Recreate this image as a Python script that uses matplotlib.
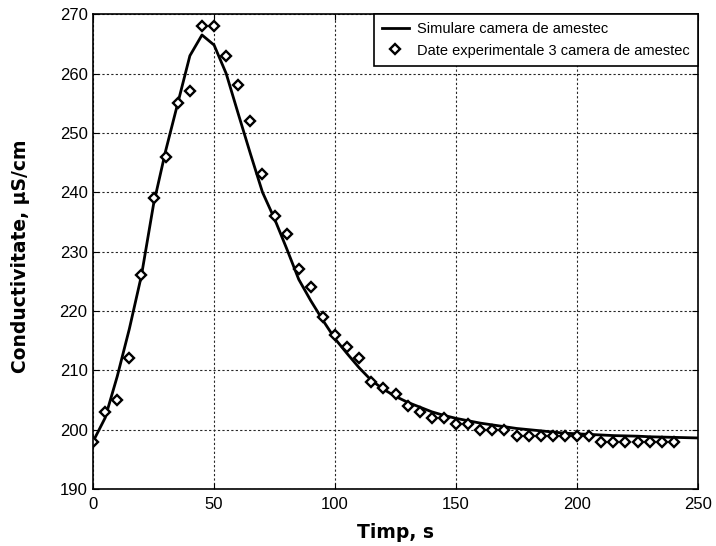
import numpy as np
import matplotlib.pyplot as plt

plt.rcParams["font.family"] = ["Liberation Sans", "DejaVu Sans"]

# simulated curve (5 s step)
t_sim = np.arange(0, 255, 5)
c_sim = [198, 202, 209, 217, 226, 238, 247, 255, 263, 266.5,
         264.8, 260, 253.2, 246.5, 240, 235.5, 230.5, 225.3, 221.7, 218.4,
         215.3, 212.8, 210.4, 208.3, 206.8, 205.6, 204.6, 203.8, 203.0, 202.4,
         201.9, 201.5, 201.1, 200.8, 200.5, 200.2, 200.0, 199.8, 199.6, 199.4,
         199.3, 199.2, 199.1, 199.0, 198.95, 198.9, 198.8, 198.75, 198.7, 198.65,
         198.6]

# experimental points
t_exp = np.arange(0, 245, 5)
c_exp = [198, 203, 205, 212, 226, 239, 246, 255, 257, 268,
         268, 263, 258, 252, 243, 236, 233, 227, 224, 219,
         216, 214, 212, 208, 207, 206, 204, 203, 202, 202,
         201, 201, 200, 200, 200, 199, 199, 199, 199, 199,
         199, 199, 198, 198, 198, 198, 198, 198, 198]

fig = plt.figure(figsize=(7.16, 5.46), dpi=100)
ax = fig.add_axes([0.130, 0.1044, 0.845, 0.8696])

ax.plot(t_sim, c_sim, color="black", lw=2, label="Simulare camera de amestec")
ax.plot(t_exp, c_exp, linestyle="none", marker="D", markersize=5.5,
        markerfacecolor="white", markeredgecolor="black", markeredgewidth=1.7,
        label="Date experimentale 3 camera de amestec")

ax.set_xlim(0, 250)
ax.set_ylim(190, 270)
ax.set_xticks(np.arange(0, 251, 50))
ax.set_yticks(np.arange(190, 271, 10))
ax.grid(True, color="0.15", linestyle=(0, (2, 2)), lw=0.8)
ax.tick_params(direction="in", top=True, right=True, labelsize=12, length=4)
ax.tick_params(axis="y", pad=4)
ax.tick_params(axis="x", pad=6)
for s in ax.spines.values():
    s.set_linewidth(1.2)

ax.set_xlabel("Timp, s", fontsize=13.5, fontweight="bold", labelpad=8,
              family="DejaVu Sans")
ax.set_ylabel("Conductivitate, \u00b5S/cm", fontsize=13.5, fontweight="bold",
              family="DejaVu Sans")
ax.yaxis.set_label_coords(-0.104, 0.49)

leg = ax.legend(loc="upper right", fontsize=10.5, frameon=True, fancybox=False,
                framealpha=1, edgecolor="black", borderaxespad=0,
                handlelength=1.8, handletextpad=0.6, borderpad=0.55,
                labelspacing=0.5)
leg.get_frame().set_linewidth(1.2)

fig.savefig("out.png", dpi=100)
